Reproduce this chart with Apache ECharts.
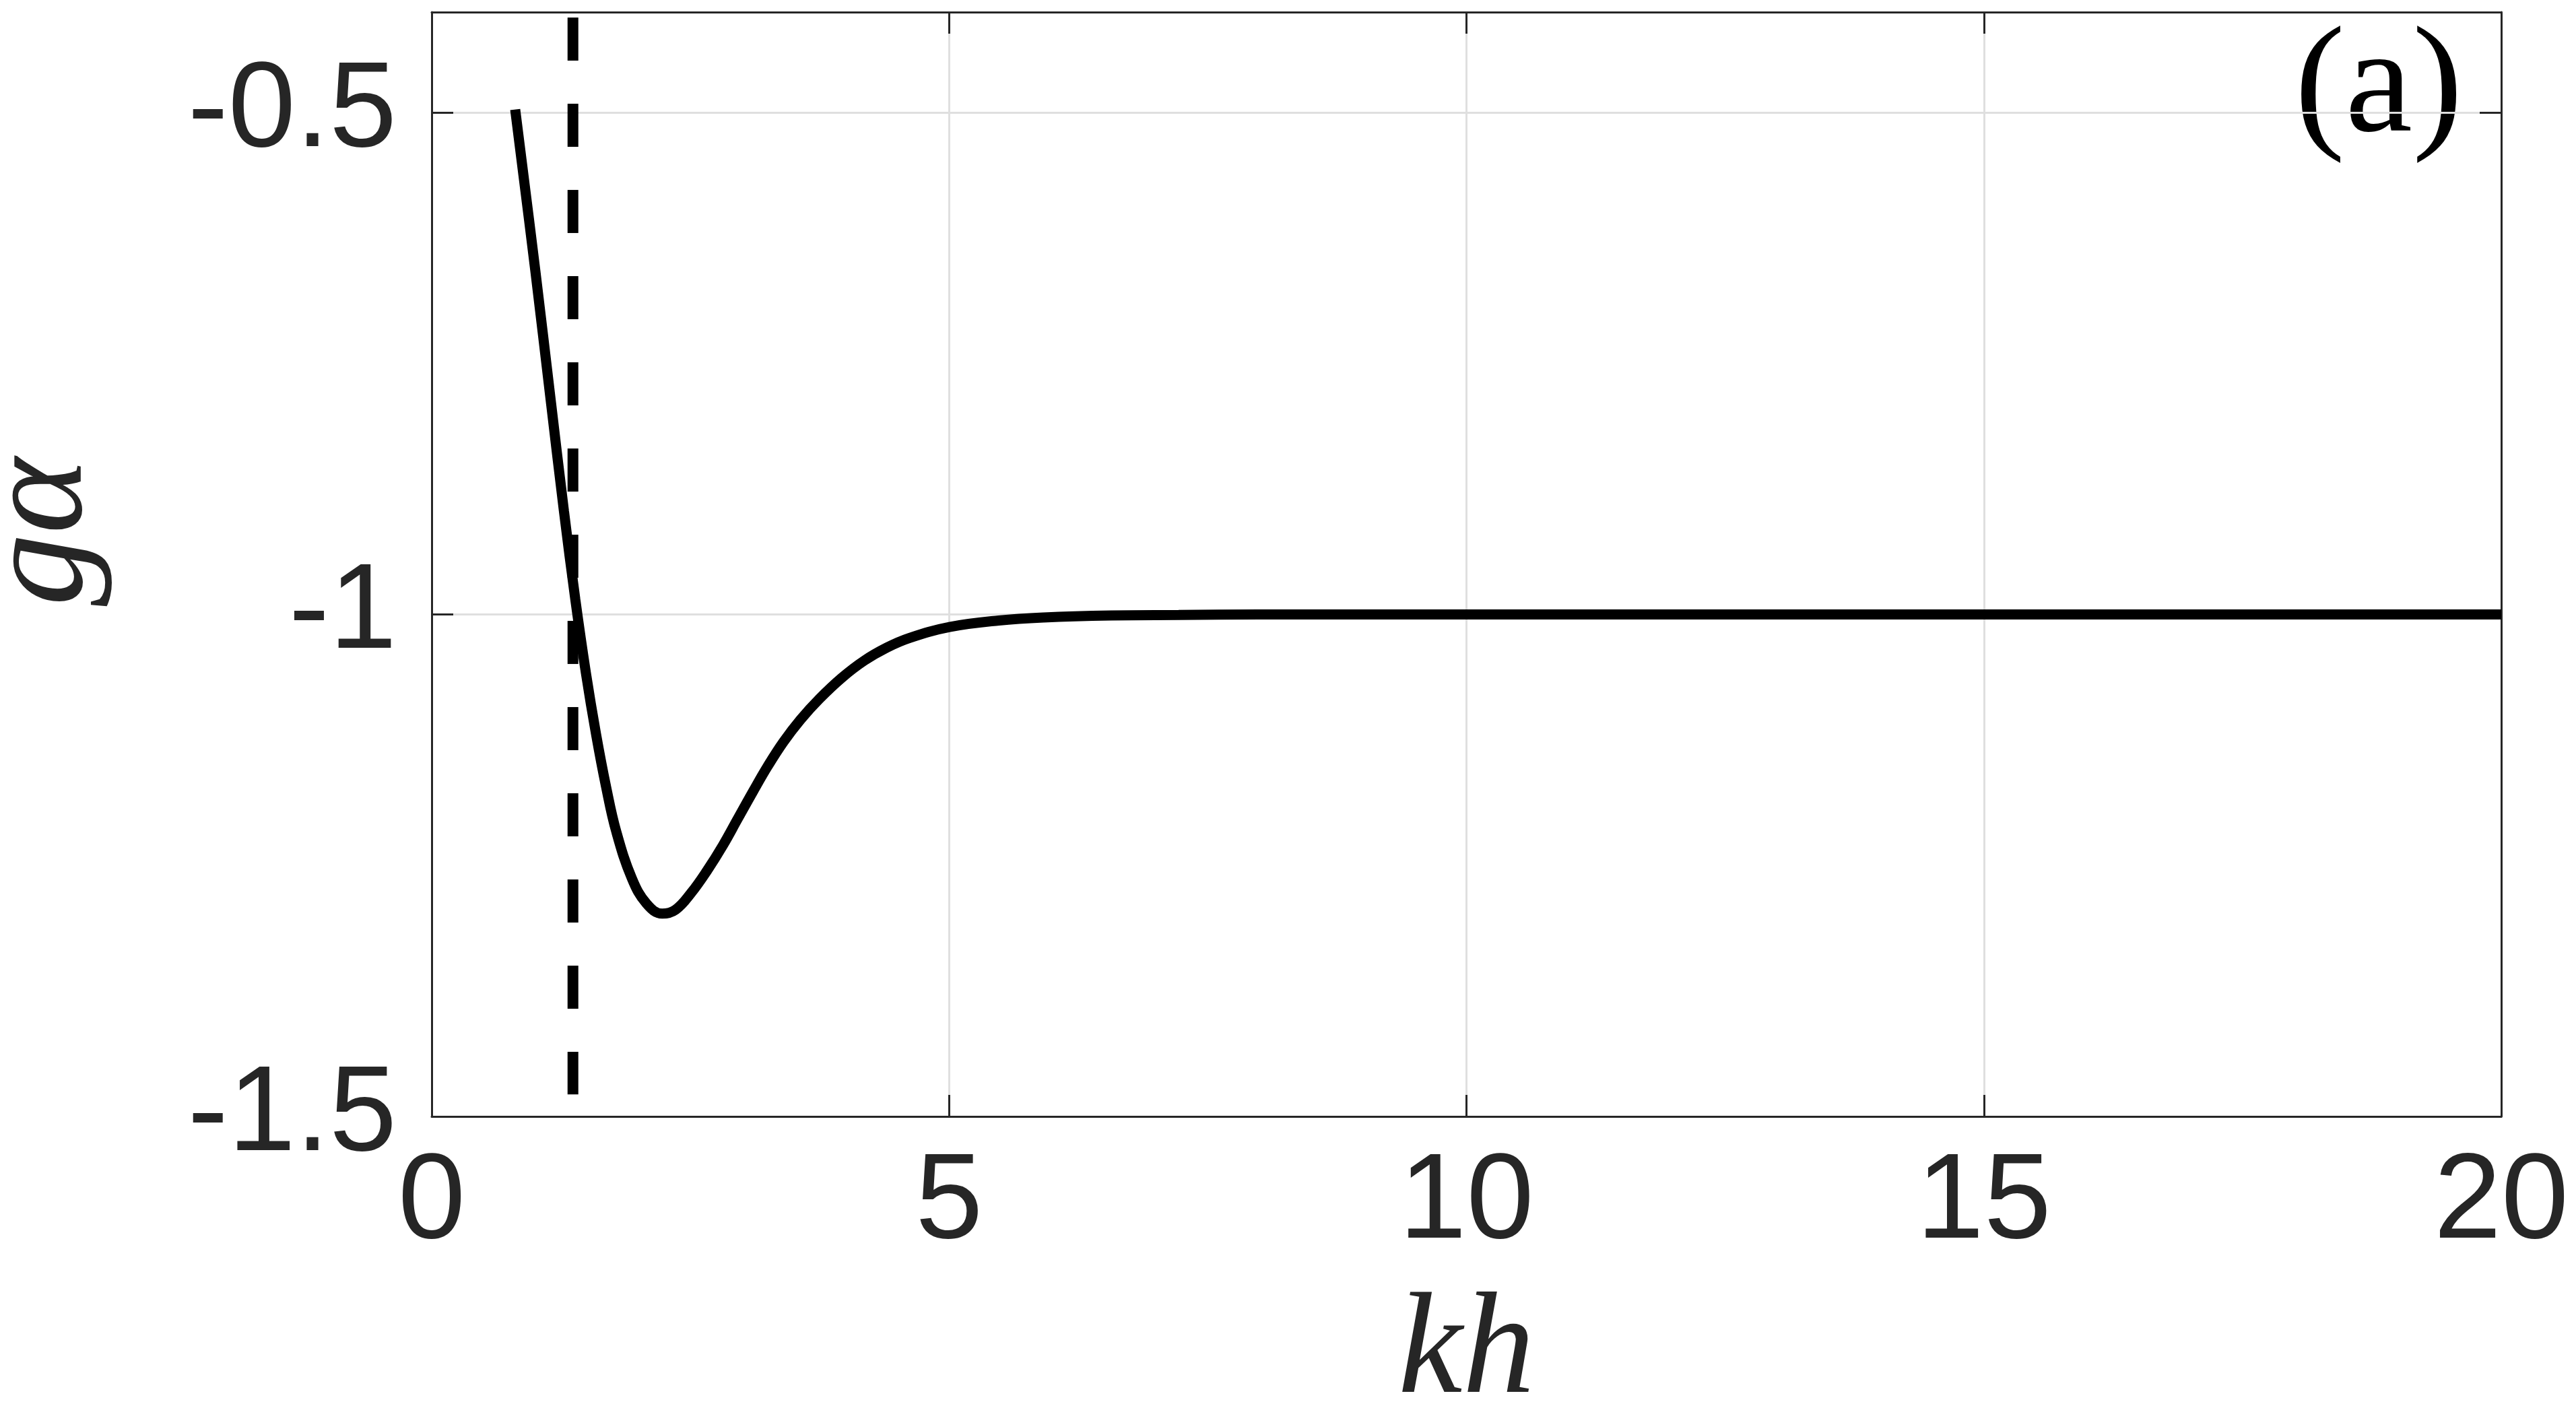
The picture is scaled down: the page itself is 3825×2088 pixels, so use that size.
<!DOCTYPE html>
<html>
<head>
<meta charset="utf-8">
<title>g alpha vs kh</title>
<script src="https://cdn.jsdelivr.net/npm/echarts@6/dist/echarts.min.js"></script>
<style>
  html, body { margin: 0; padding: 0; background: #fff; }
  #chart { width: 3825px; height: 2088px; }
</style>
</head>
<body>
<div id="chart"></div>
<script>
// values
const khValues = [0.807, 1.002, 1.154, 1.278, 1.388, 1.490, 1.588, 1.686, 1.783, 1.935,
  2.076, 2.228, 2.358, 2.510, 2.662, 2.814, 2.955, 3.107, 3.248, 3.399,
  3.562, 3.747, 3.964, 4.180, 4.398, 4.614, 5.005, 5.482, 5.916, 6.567,
  7.218, 8, 10, 12, 14, 16, 18, 20];
const gAlphaValues = [-0.497, -0.658, -0.790, -0.897, -0.985, -1.058, -1.119, -1.172, -1.216, -1.263,
  -1.288, -1.298, -1.294, -1.277, -1.255, -1.230, -1.204, -1.176, -1.151, -1.127,
  -1.105, -1.084, -1.063, -1.046, -1.033, -1.0235, -1.0125, -1.006, -1.003, -1.001,
  -1.0005, -1, -1, -1, -1, -1, -1, -1];

// vertical dashed marker
const dashKh = [1.365, 1.365];
const dashG = [-0.4054, -1.478];

const xRange = [0, 20];
const xStep = 5;
const yRange = [-1.5, -0.4];
const yStep = 0.5;

const ink = '#262626';
const gridGray = '#dfdfdf';
const tickFont = 'Liberation Sans';
const mathFont = 'Liberation Serif';

const curve = khValues.map((k, i) => [k, gAlphaValues[i]]);
const dashed = dashKh.map((k, i) => [k, dashG[i]]);

const chart = echarts.init(document.getElementById('chart'), null, { renderer: 'canvas' });

const axisCommon = {
  type: 'value',
  axisLine: { show: true, onZero: false, lineStyle: { color: ink, width: 3 } },
  axisTick: { show: true, inside: true, length: 32, lineStyle: { color: ink, width: 3 } },
};

chart.setOption({
  animation: false,
  backgroundColor: '#fff',
  grid: { left: 641, right: 111, top: 18, bottom: 430, containLabel: false, outerBoundsMode: 'none' },
  xAxis: [
    Object.assign({}, axisCommon, {
      position: 'bottom', min: xRange[0], max: xRange[1], interval: xStep,
      axisLabel: { color: ink, fontSize: 180, fontFamily: tickFont, margin: 40 },
      splitLine: { show: true, lineStyle: { color: gridGray, width: 3 } },
      name: 'kh', nameLocation: 'middle', nameGap: 245,
      nameTextStyle: { color: ink, fontSize: 215, fontFamily: mathFont, fontStyle: 'italic' }
    }),
    Object.assign({}, axisCommon, {
      position: 'top', min: xRange[0], max: xRange[1], interval: xStep,
      axisLabel: { show: false }, splitLine: { show: false }
    })
  ],
  yAxis: [
    Object.assign({}, axisCommon, {
      position: 'left', min: yRange[0], max: yRange[1], interval: yStep,
      axisLabel: { color: ink, fontSize: 180, fontFamily: tickFont, margin: 52, showMaxLabel: false },
      splitLine: { show: true, lineStyle: { color: gridGray, width: 3 } },
      name: 'gα', nameLocation: 'middle', nameRotate: 90, nameGap: 470,
      nameTextStyle: { color: ink, fontSize: 215, fontFamily: mathFont, fontStyle: 'italic', padding: [0, 0, 0, 96] }
    }),
    Object.assign({}, axisCommon, {
      position: 'right', min: yRange[0], max: yRange[1], interval: yStep,
      axisLabel: { show: false }, splitLine: { show: false }
    })
  ],
  graphic: [{
    type: 'text',
    right: 168,
    top: 22,
    style: { text: '(a)', fill: '#000', font: '225px "Liberation Serif"' }
  }],
  series: [
    {
      type: 'line', data: dashed, showSymbol: false, silent: true,
      lineStyle: { color: '#000', width: 16, type: [64, 64], cap: 'butt' }
    },
    {
      type: 'line', data: curve, showSymbol: false, silent: true,
      smooth: 0.4,
      lineStyle: { color: '#000', width: 15, cap: 'butt' }
    }
  ]
});
</script>
</body>
</html>
